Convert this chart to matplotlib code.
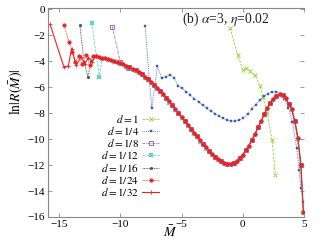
import matplotlib
matplotlib.use("Agg")
import matplotlib.pyplot as plt

plt.rcParams['font.family'] = ['Liberation Serif', 'DejaVu Serif']
plt.rcParams['mathtext.fontset'] = 'stix'

# common tail shared by small-d series
tail_M = [-12.00, -11.75, -11.50, -11.25, -11.00, -10.75, -10.50, -10.25, -10.00,
          -9.75, -9.50, -9.25, -9.00, -8.75, -8.50, -8.25, -8.00, -7.75, -7.50,
          -7.25, -7.00, -6.75, -6.50, -6.25, -6.00, -5.75, -5.50, -5.25, -5.00,
          -4.75, -4.50, -4.25, -4.00, -3.75, -3.50, -3.25, -3.00, -2.75, -2.50,
          -2.25, -2.00, -1.75, -1.50, -1.25, -1.00, -0.75, -0.50, -0.25, 0.00,
          0.25, 0.50, 0.75, 1.00, 1.25, 1.50, 1.75, 2.00, 2.25, 2.50, 2.75,
          3.00, 3.25, 3.50, 3.75, 4.00, 4.25, 4.50, 4.75, 4.95]
tail_lnR = [-3.65, -3.70, -3.75, -3.80, -3.85, -3.92, -4.00, -4.07, -4.15,
            -4.25, -4.35, -4.47, -4.60, -4.72, -4.85, -5.02, -5.20, -5.40, -5.60,
            -5.82, -6.05, -6.30, -6.55, -6.82, -7.10, -7.40, -7.70, -8.00, -8.30,
            -8.60, -8.90, -9.20, -9.50, -9.80, -10.10, -10.38, -10.65, -10.90, -11.15,
            -11.37, -11.55, -11.72, -11.85, -11.92, -11.90, -11.82, -11.68, -11.47, -11.20,
            -10.87, -10.50, -10.07, -9.60, -9.10, -8.60, -8.10, -7.62, -7.22, -6.90, -6.68,
            -6.55, -6.60, -6.85, -7.30, -7.70, -8.60, -9.90, -12.00, -15.60]

# d = 1
d1_M = [-1.03, -0.40, 0.00, 0.27, 0.60, 1.00, 1.40, 1.65, 2.00, 2.40, 2.65]
d1_lnR = [-1.47, -3.55, -4.70, -4.56, -4.80, -5.10, -5.90, -6.80, -8.00, -10.10, -12.75]

# d = 1/4
d4_M = [-7.98, -7.43, -6.97, -6.62, -6.27, -5.94, -5.60, -5.27, -4.94, -4.60, -4.27,
        -3.94, -3.60, -3.27, -2.94, -2.60, -2.27, -1.94, -1.60, -1.27, -0.94, -0.60,
        -0.27, 0.06, 0.40, 0.73, 1.06, 1.40, 1.73, 2.06, 2.40, 2.73, 3.06, 3.40,
        3.73, 4.06, 4.40, 4.60, 4.75, 4.92]
d4_lnR = [-1.30, -7.65, -4.40, -5.30, -5.20, -5.05, -5.30, -5.90, -6.10, -6.35, -6.60,
          -6.90, -7.15, -7.40, -7.65, -7.85, -8.05, -8.25, -8.40, -8.55, -8.62, -8.62,
          -8.55, -8.35, -8.05, -7.70, -7.35, -7.00, -6.70, -6.50, -6.38, -6.35, -6.50, -6.90,
          -7.60, -8.70, -10.70, -12.40, -13.80, -14.85]

# heads (before joining common tail)
d8_head_M = [-10.65, -10.00, -9.34]
d8_head_lnR = [-1.35, -4.10, -4.50]
d12_head_M = [-12.33, -11.70, -11.50, -11.00, -10.50]
d12_head_lnR = [-1.10, -5.23, -3.85, -3.95, -4.10]
d16_head_M = [-13.30, -12.95, -12.65, -12.35, -12.05]
d16_head_lnR = [-1.25, -4.10, -5.20, -4.00, -3.60]
d24_head_M = [-14.60, -14.20, -13.90, -13.70, -13.40, -13.10, -12.80, -12.50, -12.25]
d24_head_lnR = [-1.20, -2.50, -3.30, -4.10, -3.60, -4.20, -3.50, -4.30, -3.60]
d32_head_M = [-15.73, -14.60, -14.24, -13.97, -13.60, -13.20, -12.90, -12.60, -12.30]
d32_head_lnR = [-1.18, -4.46, -4.38, -3.04, -4.33, -3.68, -4.20, -3.75, -4.05]

labels = [r'$d=1$', r'$d=1/4$', r'$d=1/8$', r'$d=1/12$', r'$d=1/16$', r'$d=1/24$', r'$d=1/32$']

fig = plt.figure(figsize=(3.21, 2.41), dpi=100)
ax = fig.add_axes([48/321, 24/241, 256/321, 209/241])

gray = '#888888'

def tail_from(m0):
    idx = [i for i, m in enumerate(tail_M) if m > m0]
    return [tail_M[i] for i in idx], [tail_lnR[i] for i in idx]

# d=1
ax.plot(d1_M, d1_lnR, color='#99cc33', ls=(0, (3, 1.5)), lw=0.6, marker='x', ms=2.2, mew=0.6, label=labels[0])
# d=1/4
ax.plot(d4_M, d4_lnR, color='#3b5bb5', ls=(0, (1, 1.2)), lw=0.6, marker='s', ms=1.7, mew=0.3, label=labels[1])
# d=1/8
tm, tl = tail_from(-9.3)
ax.plot(d8_head_M + tm[::2], d8_head_lnR + tl[::2], color='#a666c8', ls=(0, (3, 1, 1, 1)), lw=0.6,
        marker='s', ms=2.6, mfc='none', mew=0.7, label=labels[2])
# d=1/12
tm, tl = tail_from(-10.5)
ax.plot(d12_head_M + tm[1::2], d12_head_lnR + [v - 0.1 for v in tl[1::2]], color='#70d0c0',
        ls=(0, (3, 1.5)), lw=0.6, marker='s', ms=2.4, mew=0.3, label=labels[3])
# d=1/16
tm, tl = tail_from(-12.05)
ax.plot(d16_head_M + tm, d16_head_lnR + tl, color='#333333', ls=(0, (1, 1)), lw=0.6,
        marker='o', ms=1.7, mfc='#555555', mew=0.4, label=labels[4])
# d=1/24
tm, tl = tail_from(-12.25)
ax.plot(d24_head_M + tm, d24_head_lnR + tl, color='#ee2222', ls=(0, (1, 1)), lw=0.6,
        marker='o', ms=2.6, mew=0.3, label=labels[5])
# d=1/32
tm, tl = tail_from(-12.3)
ax.plot(d32_head_M + tm, d32_head_lnR + tl, color='#ee2222', ls='-', lw=0.8,
        marker='+', ms=2.6, mew=0.6, label=labels[6])

ax.set_xlim(-15.9, 5)
ax.set_ylim(-16, 0.08)
ax.set_xticks([-15, -10, -5, 0, 5])
ax.set_yticks(range(-16, 1, 2))
ax.set_xticklabels(['\u221215', '\u221210', '\u22125', '0', '5'])
ax.set_yticklabels(['\u221216', '\u221214', '\u221212', '\u221210', '\u22128', '\u22126', '\u22124', '\u22122', '0'])
ax.tick_params(direction='in', length=3, width=0.6, color=gray, labelsize=8, pad=2,
               top=True, right=True)
for s in ['left', 'bottom', 'top']:
    ax.spines[s].set_color(gray)
    ax.spines[s].set_linewidth(0.8)
ax.spines['right'].set_visible(False)

ax.text(134/256, 0.945, r'(b) $\alpha$=3, $\eta$=0.02', transform=ax.transAxes,
        ha='left', va='center', fontsize=9.8, color='#222222')

fig.text(170/321, 1 - 232/241, r'$\bar{M}$', ha='center', va='center', fontsize=10)
fig.text(16/321, 1 - 92/241, r'$\ln|R(\bar{M})|$', ha='center', va='center', fontsize=10, rotation=90)

leg = ax.legend(loc='lower left', bbox_to_anchor=(53/256, (217 - 198)/209), frameon=False,
                markerfirst=False, fontsize=8, handlelength=1.5, handletextpad=0.3,
                labelspacing=0.02, borderpad=0, borderaxespad=0)

fig.savefig('out.png', dpi=100)
